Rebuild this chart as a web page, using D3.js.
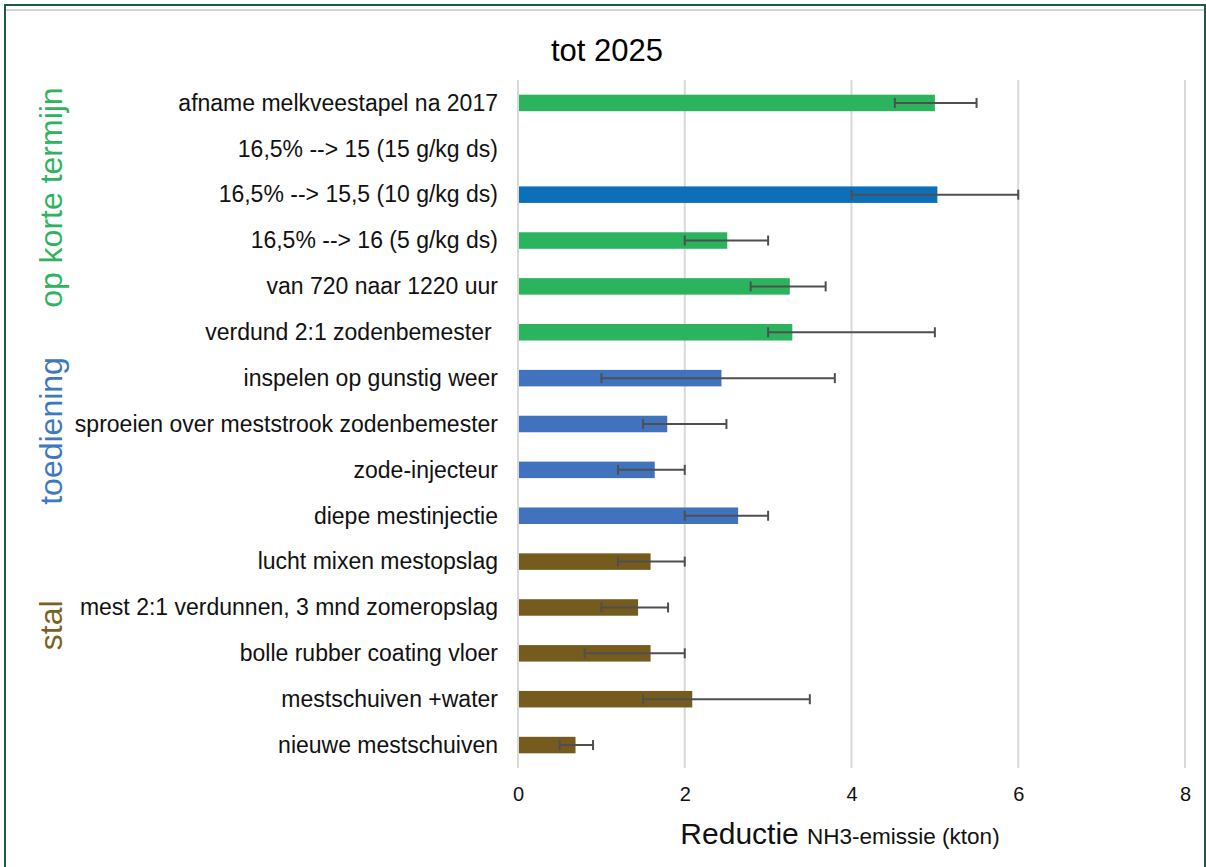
<!DOCTYPE html>
<html>
<head>
<meta charset="utf-8">
<script src="https://cdn.jsdelivr.net/npm/d3@7"></script>
<style>
  body { margin: 0; background: #fff; }
  svg { font-family: "Liberation Sans", Arial, sans-serif; display: block; }
</style>
</head>
<body>
<div class="charts-container"></div>
<script>
"use strict";

// Measures, top to bottom
const measures = [
  "afname melkveestapel na 2017",
  "16,5% --> 15 (15 g/kg ds)",
  "16,5% --> 15,5 (10 g/kg ds)",
  "16,5% --> 16 (5 g/kg ds)",
  "van 720 naar 1220 uur",
  "verdund 2:1 zodenbemester ",
  "inspelen op gunstig weer",
  "sproeien over meststrook zodenbemester",
  "zode-injecteur",
  "diepe mestinjectie",
  "lucht mixen mestopslag",
  "mest 2:1 verdunnen, 3 mnd zomeropslag",
  "bolle rubber coating vloer",
  "mestschuiven +water",
  "nieuwe mestschuiven"
];

// Reduction (kton), null = no bar
const reduction = [5.0, null, 5.03, 2.51, 3.26, 3.29, 2.44, 1.79, 1.64, 2.64, 1.59, 1.44, 1.59, 2.09, 0.69];
const errLow =    [4.52, null, 4.0, 2.0, 2.79, 3.0, 1.0, 1.5, 1.2, 2.0, 1.2, 1.0, 0.8, 1.5, 0.5];
const errHigh =   [5.5, null, 6.0, 3.0, 3.69, 5.0, 3.8, 2.5, 2.0, 3.0, 2.0, 1.8, 2.0, 3.5, 0.9];

// Group of each measure
const groupOf = ["kort", "kort", "kortBlauw", "kort", "kort", "kort",
  "toediening", "toediening", "toediening", "toediening",
  "stal", "stal", "stal", "stal", "stal"];

const groups = [
  { name: "op korte termijn", first: 0, last: 5, color: "#2fb35f", shift: -20 },
  { name: "toediening", first: 6, last: 9, color: "#3d78c0", shift: -16 },
  { name: "stal", first: 10, last: 14, color: "#7b6224", shift: -28 }
];

const xTicks = [0, 2, 4, 6, 8];

const barColors = {
  kort: "#2bb35e",
  kortBlauw: "#0b70b8",
  toediening: "#4072bd",
  stal: "#765b1f"
};

const data = measures.map((m, i) => ({
  name: m,
  value: reduction[i],
  low: errLow[i],
  high: errHigh[i],
  group: groupOf[i]
}));

drawChart(data);

function drawChart(data) {
  const width = 1206;
  const height = 867;

  const svg = d3.select(".charts-container")
    .append("svg")
      .attr("width", width)
      .attr("height", height);

  // frame
  svg.append("rect")
    .attr("x", 5).attr("y", 5)
    .attr("width", width - 6).attr("height", height)
    .attr("fill", "none")
    .attr("stroke", "#1f5a49")
    .attr("stroke-width", 2);
  svg.append("line")
    .attr("x1", 6).attr("x2", width - 2)
    .attr("y1", 10).attr("y2", 10)
    .attr("stroke", "#d4d4d4")
    .attr("stroke-width", 2);

  const xScale = d3.scaleLinear()
    .domain([0, 8])
    .range([518, 1185]);

  const yScale = d3.scaleBand()
    .domain(data.map(d => d.name))
    .range([80, 768])
    .paddingInner(0.64)
    .paddingOuter(0.32);

  // Title
  svg.append("text")
    .attr("x", 607)
    .attr("y", 61)
    .attr("text-anchor", "middle")
    .attr("font-size", 31)
    .attr("fill", "#000")
    .text("tot 2025");

  // Gridlines
  svg.append("g")
    .selectAll("line")
    .data(xTicks)
    .join("line")
      .attr("x1", d => xScale(d))
      .attr("x2", d => xScale(d))
      .attr("y1", 80)
      .attr("y2", 768)
      .attr("stroke", "#d9d9d9")
      .attr("stroke-width", 2);

  // X axis
  const xAxis = d3.axisBottom(xScale)
    .tickValues(xTicks)
    .tickSize(0)
    .tickPadding(0);

  const axisX = svg.append("g")
    .attr("class", "axis-x")
    .attr("transform", "translate(0, 787)")
    .call(xAxis);
  axisX.select(".domain").remove();
  axisX.selectAll("text")
    .attr("font-family", "Liberation Sans, Arial, sans-serif")
    .attr("font-size", 20)
    .attr("fill", "#111")
    .attr("dy", "0.72em");

  // Y axis labels
  const yAxis = d3.axisLeft(yScale)
    .tickSize(0)
    .tickPadding(0);

  const axisY = svg.append("g")
    .attr("class", "axis-y")
    .attr("transform", "translate(498, 0)")
    .call(yAxis);
  axisY.select(".domain").remove();
  axisY.selectAll("text")
    .attr("font-family", "Liberation Sans, Arial, sans-serif")
    .attr("font-size", 23)
    .attr("fill", "#111")
    .attr("dy", "0.34em")
    .style("white-space", "pre");

  // Bars
  const barData = data.filter(d => d.value !== null);

  svg.append("g")
    .selectAll("rect")
    .data(barData)
    .join("rect")
      .attr("x", xScale(0) + 1)
      .attr("y", d => yScale(d.name))
      .attr("width", d => xScale(d.value) - xScale(0) - 1)
      .attr("height", yScale.bandwidth())
      .attr("fill", d => barColors[d.group]);

  // Error bars
  const errG = svg.append("g")
    .attr("stroke", "#4f4f4f")
    .attr("stroke-width", 2);

  errG.selectAll(".err-line")
    .data(barData)
    .join("line")
      .attr("class", "err-line")
      .attr("x1", d => xScale(d.low))
      .attr("x2", d => xScale(d.high))
      .attr("y1", d => yScale(d.name) + yScale.bandwidth() / 2)
      .attr("y2", d => yScale(d.name) + yScale.bandwidth() / 2);

  ["low", "high"].forEach(k => {
    errG.selectAll(".cap-" + k)
      .data(barData)
      .join("line")
        .attr("class", "cap-" + k)
        .attr("x1", d => xScale(d[k]))
        .attr("x2", d => xScale(d[k]))
        .attr("y1", d => yScale(d.name) + yScale.bandwidth() / 2 - 5)
        .attr("y2", d => yScale(d.name) + yScale.bandwidth() / 2 + 5);
  });

  // Group labels (rotated)
  svg.append("g")
    .selectAll("text")
    .data(groups)
    .join("text")
      .attr("transform", d => {
        const y0 = yScale(measures[d.first]);
        const y1 = yScale(measures[d.last]) + yScale.bandwidth();
        return `translate(62, ${(y0 + y1) / 2 + d.shift}) rotate(-90)`;
      })
      .attr("text-anchor", "middle")
      .attr("font-size", 32)
      .attr("fill", d => d.color)
      .text(d => d.name);

  // X axis title
  const title = svg.append("text")
    .attr("x", 840)
    .attr("y", 844)
    .attr("text-anchor", "middle")
    .attr("fill", "#111");
  title.append("tspan")
    .attr("font-size", 30)
    .text("Reductie ");
  title.append("tspan")
    .attr("font-size", 22.5)
    .text("NH3-emissie (kton)");
}
</script>
</body>
</html>
